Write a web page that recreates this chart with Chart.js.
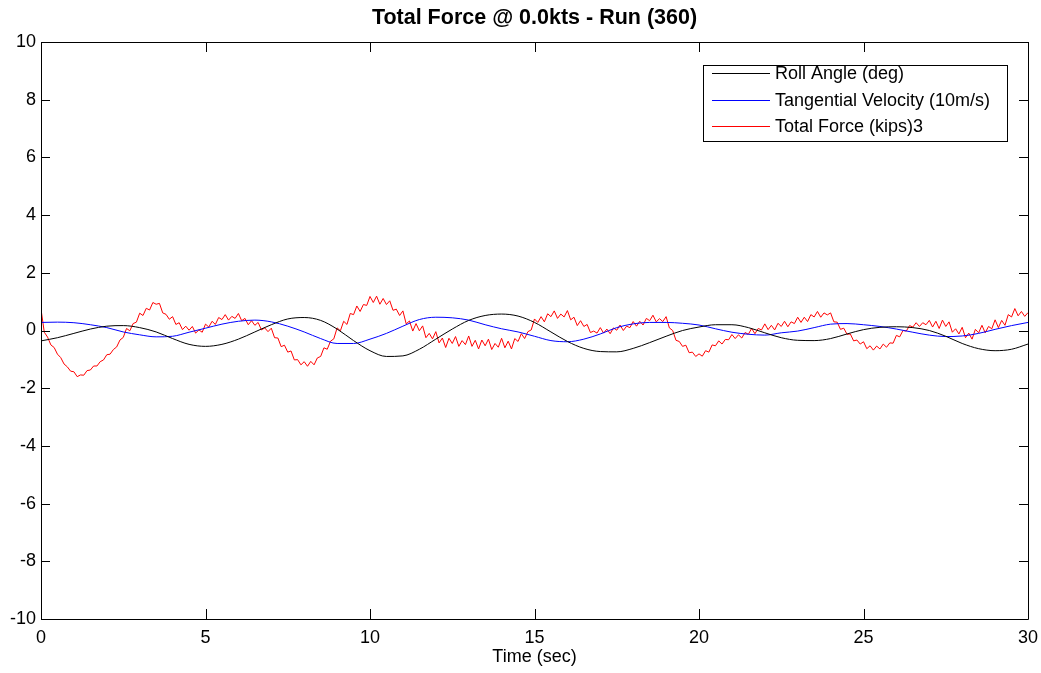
<!DOCTYPE html>
<html>
<head>
<meta charset="utf-8">
<script src="https://cdn.jsdelivr.net/npm/chart.js@4/dist/chart.umd.min.js"></script>
<style>
  html, body { margin: 0; padding: 0; background: #ffffff; }
  #wrap { width: 1041px; height: 673px; }
</style>
</head>
<body>
<div id="wrap"><canvas id="c" width="1041" height="673"></canvas></div>
<script>
// ---------- data ----------
const chartTitle = 'Total Force @ 0.0kts - Run (360)';
const xAxisTitle = 'Time (sec)';
const seriesNames = ['Roll Angle (deg)', 'Tangential Velocity (10m/s)', 'Total Force (kips)3'];
const xTickValues = [0, 5, 10, 15, 20, 25, 30];
const yTickValues = [-10, -8, -6, -4, -2, 0, 2, 4, 6, 8, 10];

// smooth series sampled every 0.5 s from t = 0
const smoothStart = 0;
const smoothStep = 0.5;
const rollAngle = [
  -0.36, -0.25, -0.10, 0.05, 0.15, 0.17, 0.10, -0.05, -0.28, -0.48,
  -0.55, -0.48, -0.30, -0.05, 0.20, 0.40, 0.45, 0.35, 0.05, -0.35,
  -0.70, -0.90, -0.88, -0.65, -0.30, 0.05, 0.35, 0.52, 0.57, 0.50,
  0.28, -0.05, -0.38, -0.62, -0.73, -0.74, -0.62, -0.42, -0.20, 0.00,
  0.12, 0.20, 0.20, 0.10, -0.08, -0.25, -0.34, -0.35, -0.28, -0.12,
  0.03, 0.11, 0.13, 0.10, 0.00, -0.20, -0.45, -0.63, -0.70, -0.65,
  -0.47
];
const tangentialVelocity = [
  0.28, 0.29, 0.27, 0.20, 0.10, -0.05, -0.15, -0.22, -0.20, -0.06,
  0.08, 0.22, 0.32, 0.36, 0.30, 0.15, -0.05, -0.28, -0.45, -0.45,
  -0.30, -0.10, 0.15, 0.38, 0.46, 0.44, 0.36, 0.20, 0.06, -0.05,
  -0.20, -0.35, -0.39, -0.30, -0.12, 0.10, 0.23, 0.28, 0.28, 0.25,
  0.19, 0.06, -0.06, -0.13, -0.16, -0.08, -0.02, 0.10, 0.22, 0.24,
  0.20, 0.14, 0.05, -0.06, -0.16, -0.21, -0.19, -0.10, 0.04, 0.17,
  0.28
];

// force series sampled every 0.1 s from t = 0
const forceStart = 0;
const forceStep = 0.1;
const totalForce = [
  0.74,-0.06,-0.23,-0.50,-0.59,-0.82,-0.94,-1.16,-1.26,-1.41,
  -1.43,-1.60,-1.54,-1.55,-1.39,-1.37,-1.23,-1.23,-1.08,-1.02,
  -0.84,-0.82,-0.66,-0.57,-0.33,-0.24,0.07,-0.01,0.24,0.29,
  0.60,0.52,0.77,0.71,0.97,0.91,0.94,0.61,0.56,0.39,
  0.48,0.21,0.27,0.03,0.15,0.01,0.14,-0.09,0.02,-0.06,
  0.22,0.12,0.32,0.21,0.45,0.38,0.55,0.36,0.49,0.42,
  0.59,0.34,0.42,0.20,0.34,0.18,0.28,0.02,0.09,-0.04,
  0.08,-0.25,-0.26,-0.56,-0.51,-0.75,-0.71,-1.02,-1.01,-1.19,
  -1.08,-1.24,-1.07,-1.19,-0.95,-0.90,-0.60,-0.65,-0.37,-0.29,
  0.09,-0.01,0.32,0.21,0.59,0.55,0.85,0.66,0.90,0.87,
  1.18,0.97,1.19,0.91,1.11,0.90,1.03,0.70,0.74,0.52,
  0.68,0.23,0.33,-0.02,0.24,-0.01,0.16,-0.25,-0.10,-0.29,
  -0.04,-0.43,-0.26,-0.59,-0.27,-0.45,-0.21,-0.55,-0.35,-0.49,
  -0.19,-0.55,-0.34,-0.64,-0.33,-0.53,-0.30,-0.66,-0.45,-0.58,
  -0.27,-0.60,-0.37,-0.64,-0.28,-0.38,-0.11,-0.28,-0.04,0.02,
  0.40,0.28,0.48,0.30,0.58,0.48,0.68,0.42,0.57,0.47,
  0.69,0.37,0.46,0.17,0.34,0.14,0.21,-0.07,-0.02,-0.09,
  0.10,-0.09,0.05,-0.11,0.09,0.01,0.19,0.00,0.15,0.10,
  0.31,0.15,0.32,0.19,0.42,0.34,0.53,0.30,0.41,0.31,
  0.48,0.09,0.00,-0.34,-0.38,-0.55,-0.51,-0.77,-0.75,-0.90,
  -0.81,-0.89,-0.70,-0.75,-0.50,-0.53,-0.36,-0.47,-0.31,-0.32,
  -0.14,-0.28,-0.15,-0.26,-0.07,-0.13,0.07,-0.11,0.07,0.02,
  0.23,0.03,0.18,0.02,0.25,0.14,0.32,0.13,0.30,0.24,
  0.46,0.28,0.46,0.31,0.55,0.47,0.66,0.46,0.61,0.54,
  0.61,0.30,0.29,0.04,0.08,-0.13,-0.12,-0.36,-0.33,-0.47,
  -0.39,-0.63,-0.53,-0.68,-0.54,-0.64,-0.47,-0.58,-0.43,-0.44,
  -0.17,-0.22,0.00,-0.02,0.17,0.12,0.27,0.14,0.27,0.20,
  0.35,0.12,0.32,0.07,0.36,0.14,0.30,-0.06,0.06,-0.12,
  0.11,-0.25,-0.09,-0.30,0.04,-0.08,0.18,-0.08,0.14,0.06,
  0.37,0.10,0.35,0.18,0.55,0.47,0.76,0.51,0.66,0.49,
  0.62
];

// ---------- build ----------
function toPoints(values, start, step) {
  return values.map((v, i) => ({ x: start + i * step, y: v }));
}

const FONT = '"Liberation Sans", Arial, sans-serif';

const boxAndTicks = {
  id: 'boxAndTicks',
  afterDatasetsDraw(chart) {
    const { ctx, chartArea: a, scales } = chart;
    ctx.save();
    ctx.strokeStyle = '#000000';
    ctx.lineWidth = 1;
    ctx.beginPath();
    ctx.rect(Math.round(a.left) + 0.5, Math.round(a.top) + 0.5,
             Math.round(a.right) - Math.round(a.left), Math.round(a.bottom) - Math.round(a.top));
    ctx.stroke();
    const tl = 10;
    ctx.beginPath();
    scales.x.ticks.forEach(t => {
      const px = Math.round(scales.x.getPixelForValue(t.value)) + 0.5;
      ctx.moveTo(px, a.bottom); ctx.lineTo(px, a.bottom - tl);
      ctx.moveTo(px, a.top); ctx.lineTo(px, a.top + tl);
    });
    scales.y.ticks.forEach(t => {
      const py = Math.round(scales.y.getPixelForValue(t.value)) + 0.5;
      ctx.moveTo(a.left, py); ctx.lineTo(a.left + tl - 1, py);
      ctx.moveTo(a.right, py); ctx.lineTo(a.right - tl + 1, py);
    });
    ctx.stroke();
    ctx.restore();
  }
};

const boxLegend = {
  id: 'boxLegend',
  afterDraw(chart) {
    const { ctx, chartArea: a } = chart;
    const ds = chart.data.datasets;
    const boxRight = a.right - 21, boxTop = a.top + 23;
    const boxW = 304, rowH = 26.5, boxH = 76;
    const boxLeft = boxRight - boxW;
    ctx.save();
    ctx.fillStyle = '#ffffff';
    ctx.fillRect(boxLeft, boxTop, boxW, boxH);
    ctx.strokeStyle = '#000000';
    ctx.lineWidth = 1;
    ctx.strokeRect(boxLeft + 0.5, boxTop + 0.5, boxW, boxH);
    ctx.font = '18px ' + FONT;
    ctx.textBaseline = 'middle';
    ctx.textAlign = 'left';
    ds.forEach((d, i) => {
      const y = Math.round(boxTop + 8 + i * rowH) + 0.5;
      ctx.strokeStyle = d.borderColor;
      ctx.beginPath();
      ctx.moveTo(boxLeft + 9, y);
      ctx.lineTo(boxLeft + 67, y);
      ctx.stroke();
      ctx.fillStyle = '#000000';
      ctx.fillText(d.label, boxLeft + 72, y + 1);
    });
    ctx.restore();
  }
};

new Chart(document.getElementById('c'), {
  type: 'line',
  data: {
    datasets: [
      { label: seriesNames[0], data: toPoints(rollAngle, smoothStart, smoothStep),
        borderColor: '#000000', borderWidth: 1, pointRadius: 0, cubicInterpolationMode: 'monotone', fill: false },
      { label: seriesNames[1], data: toPoints(tangentialVelocity, smoothStart, smoothStep),
        borderColor: '#0000ff', borderWidth: 1, pointRadius: 0, cubicInterpolationMode: 'monotone', fill: false },
      { label: seriesNames[2], data: toPoints(totalForce, forceStart, forceStep),
        borderColor: '#ff0000', borderWidth: 1, pointRadius: 0, tension: 0, fill: false }
    ]
  },
  options: {
    responsive: false,
    animation: false,
    devicePixelRatio: 1,
    layout: { padding: { left: 0, right: 13, top: 0, bottom: 0 } },
    plugins: {
      legend: { display: false },
      tooltip: { enabled: false },
      title: {
        display: true,
        fullSize: false,
        text: chartTitle,
        color: '#000000',
        font: { family: FONT, size: 21.5, weight: 'bold', lineHeight: 1.2 },
        padding: { top: 5.1, bottom: 11.1 }
      }
    },
    scales: {
      x: {
        type: 'linear', min: 0, max: 30,
        afterBuildTicks: s => { s.ticks = xTickValues.map(v => ({ value: v })); },
        afterFit: s => { s.height = 54; s.paddingLeft = 0; s.paddingRight = 0; },
        grid: { display: false, drawTicks: false },
        border: { display: false },
        ticks: { color: '#000000', padding: 8, maxRotation: 0, autoSkip: false,
                 font: { family: FONT, size: 18 } },
        title: { display: true, text: xAxisTitle, color: '#000000',
                 font: { family: FONT, size: 18, lineHeight: 1.2 }, padding: { top: 0, bottom: 5 } }
      },
      y: {
        type: 'linear', min: -10, max: 10,
        afterBuildTicks: s => { s.ticks = yTickValues.map(v => ({ value: v })); },
        afterFit: s => { s.width = 41; s.paddingTop = 0; s.paddingBottom = 0; },
        grid: { display: false, drawTicks: false },
        border: { display: false },
        ticks: { color: '#000000', padding: 5, autoSkip: false,
                 font: { family: FONT, size: 18 } }
      }
    }
  },
  plugins: [boxAndTicks, boxLegend]
});
</script>
</body>
</html>
